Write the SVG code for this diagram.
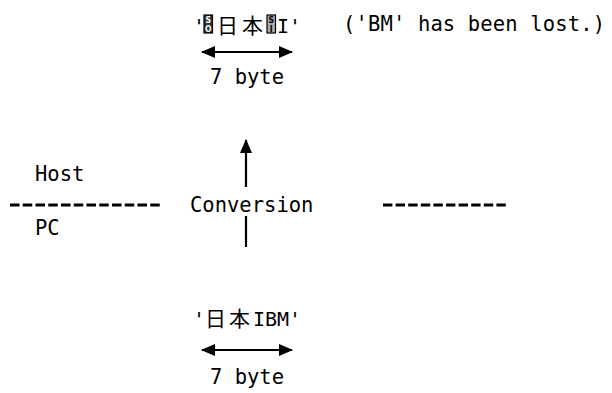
<svg xmlns="http://www.w3.org/2000/svg" width="612" height="393" viewBox="0 0 612 393">
  <defs>
    <marker id="head" viewBox="0 0 14 12" refX="13" refY="6" markerWidth="14" markerHeight="12" markerUnits="userSpaceOnUse" orient="auto-start-reverse">
      <path d="M0,0 L14,6 L0,12 Z" fill="#000"/>
    </marker>
    <style>
      text { font-family: "DejaVu Sans Mono", "Liberation Mono", "Noto Sans CJK JP", monospace; font-size: 20.5px; fill: #000; }
      .q { font-size: 20px; }
      .cjk { font-family: "Noto Sans CJK JP", "Noto Sans CJK SC", sans-serif; font-size: 21px; }
      .ctlbox { stroke: #000; stroke-width: 1.2; }
      .ctl { font-family: "DejaVu Sans Condensed", "DejaVu Sans", sans-serif; font-size: 8.5px; font-weight: bold; text-anchor: middle; }
      .arrow { stroke: #000; stroke-width: 2.2; fill: none; }
      .sep { stroke: #000; stroke-width: 3; }
    </style>
  </defs>

  <g id="host-string">
    <text class="q" y="33"><tspan x="193">'</tspan><tspan class="cjk" x="217">日</tspan><tspan class="cjk" x="242">本</tspan><tspan x="277">I</tspan><tspan x="289">'</tspan></text>
    <g id="shift-out">
      <rect class="ctlbox" x="204" y="15" width="8.5" height="18" fill="#333"/>
      <text class="ctl" x="208.25" y="23" fill="#fff" style="fill:#fff">S</text>
      <text class="ctl" x="208.25" y="31.5" style="fill:#fff">O</text>
    </g>
    <g id="shift-in">
      <rect class="ctlbox" x="267" y="15" width="8.5" height="18" fill="#aaa"/>
      <text class="ctl" x="271.25" y="23">S</text>
      <text class="ctl" x="271.25" y="31.5">I</text>
    </g>
  </g>
  <g id="lost-note">
    <text x="343" y="31" textLength="262" lengthAdjust="spacing">('BM' has been lost.)</text>
  </g>
  <g id="host-bytes">
    <text x="210" y="84">7 byte</text>
  </g>
  <g id="host-label">
    <text x="35" y="181">Host</text>
  </g>
  <g id="conversion">
    <text x="190" y="212">Conversion</text>
  </g>
  <g id="pc-label">
    <text x="35" y="235">PC</text>
  </g>
  <g id="separator">
    <line class="sep" x1="10" y1="205" x2="163" y2="205" stroke-dasharray="9.5 3.25"/>
    <line class="sep" x1="383" y1="205" x2="509" y2="205" stroke-dasharray="9.4 3.2"/>
  </g>
  <g id="pc-string">
    <text class="q" y="326"><tspan x="193">'</tspan><tspan class="cjk" x="205">日</tspan><tspan class="cjk" x="229">本</tspan><tspan x="253">IBM</tspan><tspan x="289">'</tspan></text>
  </g>
  <g id="pc-bytes">
    <text x="210" y="384">7 byte</text>
  </g>

  <g id="connectors">
    <line class="arrow" x1="202" y1="52" x2="292" y2="52" marker-start="url(#head)" marker-end="url(#head)"/>
    <line class="arrow" x1="246" y1="187" x2="246" y2="140" marker-end="url(#head)"/>
    <line class="arrow" x1="246" y1="247" x2="246" y2="216"/>
    <line class="arrow" x1="202" y1="350" x2="292" y2="350" marker-start="url(#head)" marker-end="url(#head)"/>
  </g>
</svg>
